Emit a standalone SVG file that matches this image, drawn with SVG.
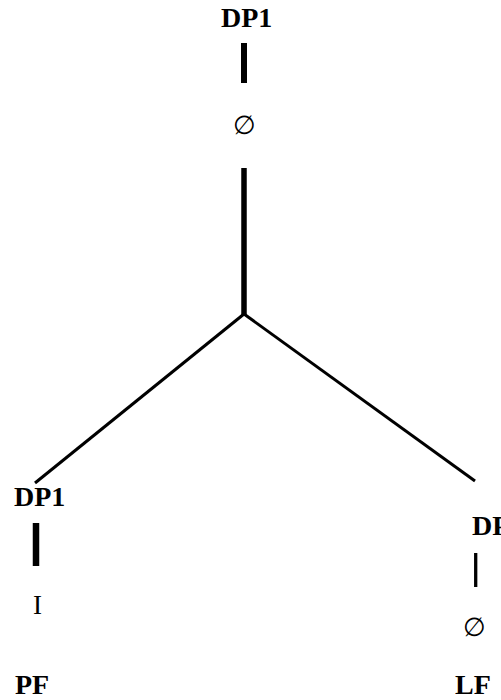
<svg xmlns="http://www.w3.org/2000/svg" width="501" height="700" viewBox="0 0 501 700">
<style>
.lbl{font-family:"Liberation Serif","Times New Roman",serif;font-weight:bold;font-size:28px;fill:#000}
.sym{font-family:"Liberation Serif","DejaVu Serif",serif;font-size:26px;fill:#000}
.bar{stroke:#000;stroke-linecap:butt;fill:none}
</style>
<rect width="501" height="700" fill="#fff"/>
<g id="connectors">
<line class="bar" x1="244" y1="168" x2="244" y2="315" stroke-width="5.5"/>
<line class="bar" x1="244" y1="314" x2="35" y2="483" stroke-width="3"/>
<line class="bar" x1="244" y1="314" x2="475" y2="481" stroke-width="3"/>
</g>
<g id="top">
<text class="lbl" x="221" y="27">DP1</text>
<line class="bar" x1="244" y1="43" x2="244" y2="83" stroke-width="6"/>
<text class="sym" x="244" y="134" text-anchor="middle">∅</text>
</g>
<g id="left">
<text class="lbl" x="14" y="506">DP1</text>
<line class="bar" x1="36" y1="523" x2="36" y2="566" stroke-width="6.5"/>
<text class="sym" x="37.5" y="614" text-anchor="middle" style="font-size:27px">I</text>
<text class="lbl" x="15" y="694">PF</text>
</g>
<g id="right">
<text class="lbl" x="472" y="535">DP1</text>
<line class="bar" x1="475.7" y1="553" x2="475.7" y2="587" stroke-width="3.3"/>
<text class="sym" x="474.5" y="636" text-anchor="middle">∅</text>
<text class="lbl" x="455" y="694">LF</text>
</g>
</svg>
